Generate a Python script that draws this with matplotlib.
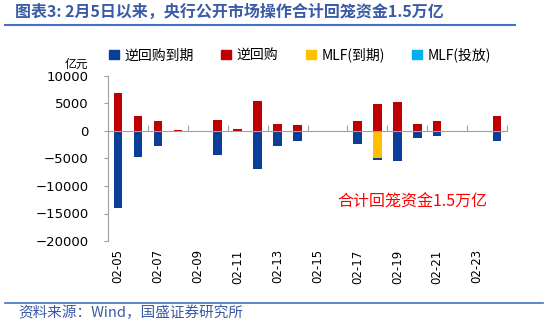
import matplotlib
matplotlib.use("Agg")
import matplotlib.pyplot as plt
from matplotlib.patches import Patch
from matplotlib.lines import Line2D
from matplotlib.transforms import blended_transform_factory
import numpy as np

plt.rcParams['font.family'] = ['Noto Sans CJK SC', 'DejaVu Sans']

# 亿元
dates = ["02-05", "02-06", "02-07", "02-08", "02-09", "02-10", "02-11",
         "02-12", "02-13", "02-14", "02-15", "02-16", "02-17", "02-18",
         "02-19", "02-20", "02-21", "02-22", "02-23", "02-24"]
repo_due = [-14000, -4800, -2800, 0, 0, -4400, 0, -7000, -2800, -1900,
            0, 0, -2300, -300, -5500, -1300, -1000, 0, 0, -1900]
repo = [6900, 2700, 1800, 200, 0, 2000, 300, 5500, 1300, 1000,
        0, 0, 1900, 4900, 5300, 1300, 1800, 0, 0, 2800]
mlf_due = [0, 0, 0, 0, 0, 0, 0, 0, 0, 0,
           0, 0, 0, -5000, 0, 0, 0, 0, 0, 0]
mlf_new = [0, 0, 0, 0, 0, 0, 0, 0, 0, 0,
           0, 0, 0, 0, 0, 0, 0, 0, 0, 0]
names = ["逆回购到期", "逆回购", "MLF(到期)", "MLF(投放)"]
colors = ["#0A3F99", "#C00000", "#FFC000", "#00B0F0"]

W, H = 550, 323
fig = plt.figure(figsize=(W / 100, H / 100), dpi=100)
ax = fig.add_axes([108 / W, 1 - 241 / H, 399 / W, 165 / H])

x = np.arange(len(dates))
bw = 0.43
ax.bar(x, mlf_due, bw, color=colors[2])
ax.bar(x, repo_due, bw, bottom=mlf_due, color=colors[0])
ax.bar(x, repo, bw, color=colors[1])
ax.bar(x, mlf_new, bw, bottom=repo, color=colors[3])

ax.set_xlim(-0.5, len(dates) - 0.5)
ax.set_ylim(-20000, 10000)
ax.set_yticks(range(-20000, 10001, 5000))
ax.tick_params(axis='y', labelsize=9.5, length=3, color='#A0A0A0', pad=11)
for lb in ax.get_yticklabels():
    lb.set_family('DejaVu Sans')
for s in ['top', 'right']:
    ax.spines[s].set_visible(False)
ax.spines['left'].set_color('#A0A0A0')
ax.spines['bottom'].set_position(('data', 0))
ax.spines['bottom'].set_color('#A0A0A0')
ax.set_xticks(np.arange(1.5, len(dates), 2))
ax.set_xticklabels([])
ax.tick_params(axis='x', direction='in', length=4, color='#A0A0A0')

# 日期标签放在图底部
tr = blended_transform_factory(ax.transData, ax.transAxes)
for i in range(0, len(dates), 2):
    ax.text(i, -0.05, dates[i], transform=tr, rotation=90, ha='center',
            va='top', fontsize=8.5, family='DejaVu Sans')

ax.text(14.75, -13000, "合计回笼资金1.5万亿", color='#FF0000', fontsize=11.5,
        ha='center', va='center')

fig.text(76 / W, 1 - 64 / H, "亿元", fontsize=8.5, ha='center', va='center')

handles = [Patch(color=c) for c in colors]
fig.legend(handles, names, loc='center', bbox_to_anchor=(300 / W, 1 - 55 / H),
           ncol=4, frameon=False, fontsize=10, handlelength=0.7,
           handleheight=0.7, handletextpad=0.4, columnspacing=2.0)

blue = '#3A5BA6'
fig.text(15 / W, 1 - 12 / H, "图表3: 2月5日以来，央行公开市场操作合计回笼资金1.5万亿",
         fontsize=11.5, weight='bold', color=blue, va='center')
fig.add_artist(Line2D([5 / W, 515 / W], [1 - 25 / H] * 2, color='#4472C4', lw=1.5))
fig.add_artist(Line2D([5 / W, 543 / W], [1 - 303 / H] * 2, color='#4472C4', lw=1.2))
fig.text(18 / W, 1 - 313 / H, "资料来源：Wind，国盛证券研究所", fontsize=10.5,
         color=blue, va='center')

fig.savefig("out.png", dpi=100)
